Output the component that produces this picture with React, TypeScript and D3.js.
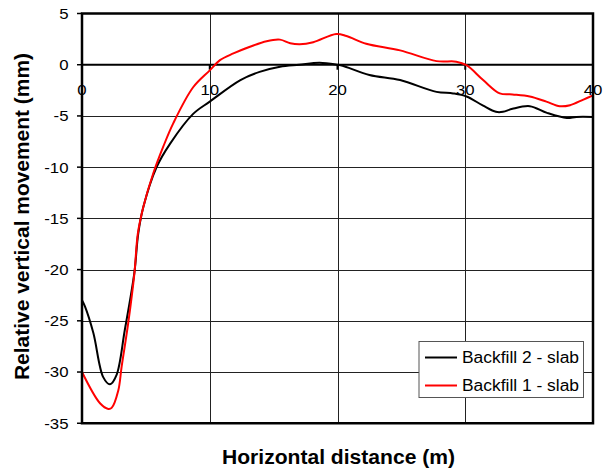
import React from "react";
import * as d3 from "d3";

const xTicks = [0, 10, 20, 30, 40];
const yTicks = [5, 0, -5, -10, -15, -20, -25, -30, -35];

const b2Dist = [0, 0.23, 0.89, 1.66, 2.19, 2.7, 3.35, 4.1, 4.4, 4.8, 5.84, 6.9, 8.7, 10, 12.4, 13.9, 15.5, 17, 18.6, 20, 20.4, 22.5, 24.9, 27.75, 29.05, 30.1, 31.4, 32.4, 32.95, 33.7, 35.05, 36.4, 37.95, 38.7, 40];
const b2Move = [-23.0, -23.6, -26.2, -30.5, -31.2, -30.3, -25.9, -20.3, -16.5, -13.9, -10.0, -7.7, -4.8, -3.6, -1.5, -0.7, -0.2, 0, 0.2, 0, -0.1, -1.0, -1.5, -2.65, -2.8, -3.1, -4.0, -4.6, -4.6, -4.3, -4.05, -4.7, -5.2, -5.1, -5.1];

const b1Dist = [0, 1.41, 2.06, 2.32, 2.84, 3.1, 3.62, 4.1, 4.37, 4.8, 5.58, 6.36, 7.15, 8.7, 10, 10.8, 11.85, 13.15, 14.45, 15.5, 16.3, 17.05, 18.1, 19.9, 20.7, 22.25, 24.9, 27.75, 29.3, 30.1, 31.4, 32.7, 33.7, 35.05, 36.35, 37.4, 38.2, 39.25, 40];
const b1Move = [-30.0, -33.05, -33.6, -33.5, -31.8, -29.5, -25.2, -20.4, -16.5, -13.9, -10.6, -8.0, -5.7, -2.2, -0.55, 0.45, 1.1, 1.75, 2.3, 2.45, 2.1, 2.0, 2.2, 3.0, 2.8, 2.05, 1.4, 0.35, 0.3, -0.05, -1.5, -2.8, -2.9, -3.1, -3.6, -4.05, -3.95, -3.4, -3.0];

const seriesNames = ["Backfill 2 - slab", "Backfill 1 - slab"];
const seriesColors = ["#000000", "#ff0000"];

export default function App() {
  const left = 82, right = 593, top = 13.5, bottom = 423.25;
  const x = d3.scaleLinear().domain([0, 40]).range([left, right]);
  const y = d3.scaleLinear().domain([-35, 5]).range([bottom, top]);
  const line = d3
    .line<[number, number]>()
    .x((d) => x(d[0]))
    .y((d) => y(d[1]))
    .curve(d3.curveCatmullRom.alpha(0.5));
  const s2 = b2Dist.map((d, i) => [d, b2Move[i]] as [number, number]);
  const s1 = b1Dist.map((d, i) => [d, b1Move[i]] as [number, number]);
  const font = "Arial, 'Liberation Sans', sans-serif";
  const lx = 419, ly = 341.5, lw = 164.5, lh = 56;

  return (
    <svg width={603} height={475} style={{ position: "absolute", left: 0, top: 0, background: "#fff" }} fontFamily={font}>
      <rect x={0} y={0} width={603} height={475} fill="#fff" />
      {/* grid */}
      {yTicks.filter((t) => t !== 5 && t !== 0 && t !== -35).map((t) => (
        <line key={"gy" + t} x1={left} x2={right} y1={Math.round(y(t)) + 0.5} y2={Math.round(y(t)) + 0.5} stroke="#222" strokeWidth={1} />
      ))}
      {xTicks.filter((t) => t !== 0 && t !== 40).map((t) => (
        <line key={"gx" + t} x1={Math.round(x(t)) + 0.5} x2={Math.round(x(t)) + 0.5} y1={top} y2={bottom} stroke="#222" strokeWidth={1} />
      ))}
      {/* zero axis */}
      <line x1={left} x2={right} y1={y(0)} y2={y(0)} stroke="#000" strokeWidth={2} />
      {xTicks.map((t) => (
        <line key={"tx" + t} x1={x(t)} x2={x(t)} y1={y(0)} y2={y(0) + 5} stroke="#000" strokeWidth={2} />
      ))}
      {/* y ticks */}
      {yTicks.map((t) => (
        <line key={"ty" + t} x1={left - 5} x2={left} y1={y(t)} y2={y(t)} stroke="#000" strokeWidth={1.5} />
      ))}
      {/* lines */}
      <path d={line(s2) || ""} fill="none" stroke={seriesColors[0]} strokeWidth={2} />
      <path d={line(s1) || ""} fill="none" stroke={seriesColors[1]} strokeWidth={2} />
      {/* border */}
      <rect x={left} y={top} width={right - left} height={bottom - top} fill="none" stroke="#000" strokeWidth={2.5} />
      {/* y tick labels */}
      {yTicks.map((t) => (
        <text key={"ly" + t} transform={`translate(68.5,${y(t)}) scale(1.12,1)`} dy="0.36em" textAnchor="end" fontSize={15} fill="#000">
          {t}
        </text>
      ))}
      {/* x tick labels */}
      {xTicks.map((t) => (
        <text key={"lx" + t} transform={`translate(${x(t)},95) scale(1.12,1)`} textAnchor="middle" fontSize={15} fill="#000">
          {t}
        </text>
      ))}
      {/* titles */}
      <text x={338.5} y={464} textAnchor="middle" fontSize={20} fontWeight="bold" fill="#000" textLength={233} lengthAdjust="spacingAndGlyphs">
        Horizontal distance (m)
      </text>
      <text transform={`translate(29,216.5) rotate(-90)`} textAnchor="middle" fontSize={20} fontWeight="bold" fill="#000" textLength={327} lengthAdjust="spacingAndGlyphs">
        Relative vertical movement (mm)
      </text>
      {/* legend */}
      <rect x={lx} y={ly} width={lw} height={lh} fill="#fff" stroke="#555" strokeWidth={1} />
      {seriesNames.map((n, i) => (
        <g key={n}>
          <line x1={lx + 6} x2={lx + 38} y1={ly + 16 + i * 28} y2={ly + 16 + i * 28} stroke={seriesColors[i]} strokeWidth={2} />
          <text x={lx + 43} y={ly + 16 + i * 28} dy="0.36em" fontSize={16} fill="#000" textLength={117} lengthAdjust="spacingAndGlyphs">
            {n}
          </text>
        </g>
      ))}
    </svg>
  );
}
